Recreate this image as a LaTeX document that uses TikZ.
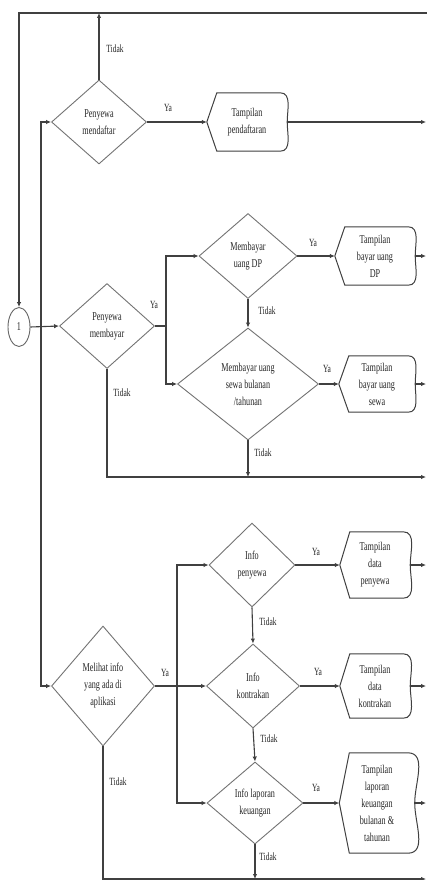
\documentclass[tikz,border=0pt]{standalone}
\usepackage{fontspec}
\newfontfamily\cond[FakeStretch=0.68]{Liberation Serif}
\usetikzlibrary{shapes.geometric,arrows.meta,calc}
\begin{document}
\begin{tikzpicture}[x=1pt,y=1pt,
 txt/.style={font=\fontsize{12}{17}\selectfont\cond, text=black!85, align=center},
 dec/.style={diamond, draw=black!55, line width=0.9pt, inner sep=0pt, txt},
 disp/.style={rectangle, inner sep=0pt, txt},
 displine/.style={draw=black!75, line width=1pt},
 conn/.style={draw=black!75, line width=1.1pt},
 arr/.style={conn, -{Latex[length=5pt,width=4.5pt]}},
 lab/.style={font=\fontsize{11}{12}\selectfont\cond, text=black!85, inner sep=0pt},
]
\useasboundingbox (0,0) rectangle (427,-880);
\fill[white] (0,0) rectangle (427,-880);

% right edge reference
\coordinate (xR) at (426,0);

% connector circle
\node[ellipse, draw=black!60, line width=0.9pt, minimum width=22pt, minimum height=39pt, inner sep=0pt, txt] (c1) at (19,-327) {1};

% decisions
\node[dec, minimum width=95pt, minimum height=84pt] (d1) at (99,-122) {Penyewa\\mendaftar};
\node[dec, minimum width=95pt, minimum height=85pt] (d2) at (107,-326) {Penyewa\\membayar};
\node[dec, minimum width=98pt, minimum height=85pt] (d3) at (248,-256) {Membayar\\uang DP};
\node[dec, minimum width=141pt, minimum height=112pt] (d4) at (248,-384) {Membayar uang\\sewa bulanan\\/tahunan};
\node[dec, minimum width=86pt, minimum height=84pt] (d5) at (252,-565) {Info\\penyewa};
\node[dec, minimum width=103pt, minimum height=120pt] (d6) at (103,-686) {Melihat info\\yang ada di\\aplikasi};
\node[dec, minimum width=93pt, minimum height=84pt] (d7) at (253,-686) {Info\\kontrakan};
\node[dec, minimum width=96pt, minimum height=82pt] (d8) at (255,-803) {Info laporan\\keuangan};

% displays
\node[disp, minimum width=80pt, minimum height=58pt] (h1) at (247,-122) {Tampilan\\pendaftaran};
\node[disp, minimum width=80pt, minimum height=58pt] (h2) at (375,-256) {Tampilan\\bayar uang\\DP};
\node[disp, minimum width=76pt, minimum height=56pt] (h3) at (377,-384) {Tampilan\\bayar uang\\sewa};
\node[disp, minimum width=70pt, minimum height=66pt] (h4) at (375,-565) {Tampilan\\data\\penyewa};
\node[disp, minimum width=70pt, minimum height=64pt] (h5) at (375,-686) {Tampilan\\data\\kontrakan};
\node[disp, minimum width=75pt, minimum height=100pt] (h6) at (377,-803) {Tampilan\\laporan\\keuangan\\bulanan \&\\tahunan};

\foreach \n in {h1,h2,h3,h4,h5,h6}{
 \draw[displine] (\n.west) -- ([xshift=10pt]\n.north west) -- ([xshift=-7pt]\n.north east)
   to[out=0,in=90] (\n.east) to[out=-90,in=0] ([xshift=-7pt]\n.south east)
   -- ([xshift=10pt]\n.south west) -- cycle;
}

% coordinates
\coordinate (tl) at (19,-13);
\coordinate (tr) at (427,-13);
\coordinate (t1) at (99,-13);
\coordinate (jA) at (41,-327);
\coordinate (jB) at (166,-326);
\coordinate (jC) at (248,-477);
\coordinate (jD) at (107,-477);
\coordinate (jE) at (177,-686);
\coordinate (jF) at (255,-879);
\coordinate (jG) at (103,-879);

% connectors
\draw[arr] (tr) -- (tl) -- (c1.north);
\draw[arr] (d1.north) -- (t1);
\draw[arr] (c1.east) -- (d2.west);
\draw[arr] (jA) |- (d1.west);
\draw[arr] (jA) |- (d6.west);
\draw[arr] (d1.east) -- (h1.west);
\draw[arr] (h1.east) -- (h1.east -| xR);

\draw[conn] (d2.east) -- (jB);
\draw[arr] (jB) |- (d3.west);
\draw[arr] (jB) |- (d4.west);
\draw[arr] (d3.east) -- (h2.west);
\draw[arr] (h2.east) -- (h2.east -| xR);
\draw[arr] (d3.south) -- (d4.north);
\draw[arr] (d4.east) -- (h3.west);
\draw[arr] (h3.east) -- (h3.east -| xR);
\draw[arr] (d4.south) -- (jC);
\draw[arr] (d2.south) -- (jD) -- (jD -| xR);

\draw[conn] (d6.east) -- (jE);
\draw[arr] (jE) |- (d5.west);
\draw[arr] (jE) -- (d7.west);
\draw[arr] (jE) |- (d8.west);
\draw[arr] (d5.east) -- (h4.west);
\draw[arr] (h4.east) -- (h4.east -| xR);
\draw[arr] (d5.south) -- (d7.north);
\draw[arr] (d7.east) -- (h5.west);
\draw[arr] (h5.east) -- (h5.east -| xR);
\draw[arr] (d7.south) -- (d8.north);
\draw[arr] (d8.east) -- (h6.west);
\draw[arr] (h6.east) -- (h6.east -| xR);
\draw[arr] (d8.south) -- (jF);
\draw[arr] (d6.south) -- (jG) -- (jG -| xR);

% labels
\node[lab] (l1) at (115,-49) {Tidak};
\node[lab] (l2) at (168,-108) {Ya};
\node[lab] (l3) at (154,-305) {Ya};
\node[lab] (l4) at (313,-243) {Ya};
\node[lab] (l5) at (267,-311) {Tidak};
\node[lab] (l6) at (327,-369) {Ya};
\node[lab] (l7) at (263,-453) {Tidak};
\node[lab] (l8) at (122,-393) {Tidak};
\node[lab] (l9) at (316,-552) {Ya};
\node[lab] (l10) at (268,-622) {Tidak};
\node[lab] (l11) at (165,-673) {Ya};
\node[lab] (l12) at (318,-672) {Ya};
\node[lab] (l13) at (269,-739) {Tidak};
\node[lab] (l14) at (316,-788) {Ya};
\node[lab] (l15) at (268,-857) {Tidak};
\node[lab] (l16) at (118,-782) {Tidak};
\end{tikzpicture}
\end{document}
